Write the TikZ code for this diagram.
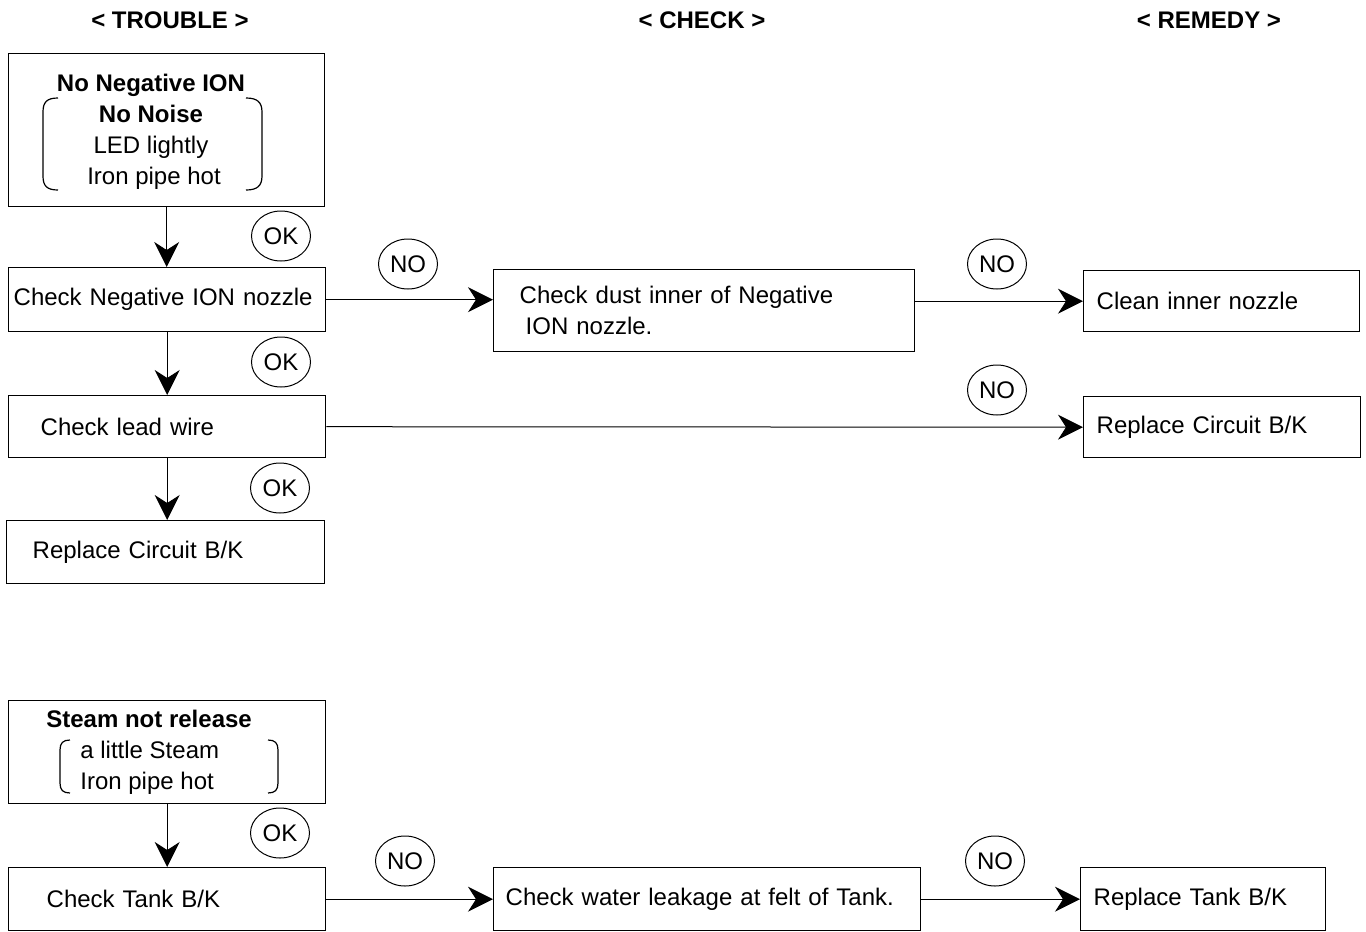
\documentclass[tikz,border=0pt]{standalone}
\usepackage{fontspec}
\setmainfont{Liberation Sans}
\usetikzlibrary{arrows.meta,shapes.geometric}

\tikzset{
  every node/.style={font=\fontsize{12}{15.5}\selectfont},
  box/.style={draw, line width=0.7pt, anchor=north west, inner ysep=0pt, align=left},
  frame/.style={draw, line width=0.7pt, anchor=north west, inner sep=0pt},
  tag/.style={draw, ellipse, line width=0.5pt, minimum width=29.5pt, minimum height=25pt, inner sep=0pt},
  head/.style={font=\fontsize{12}{15.5}\selectfont\bfseries},
  flow/.style={line width=0.5pt, -{Stealth[length=12.5pt, width=12.5pt, inset=4pt]}},
  brace/.style={line width=0.6pt}
}

\begin{document}
\begin{tikzpicture}[x=0.5pt, y=-0.5pt]
  \useasboundingbox (0,0) rectangle (1366,932);

  \node[head] (htrouble) at ( 170, 20) {< TROUBLE >};
  \node[head] (hcheck)   at ( 702, 20) {< CHECK >};
  \node[head] (hremedy)  at (1209, 20) {< REMEDY >};

  \node[frame, minimum width=158pt, minimum height=76.5pt]              (trouble1) at (   8, 53) {};
  \node[align=center] (trouble1txt) at (151,132)
       {\textbf{No Negative ION}\\ \textbf{No Noise}\\ LED lightly\\ \hspace*{3pt}Iron pipe hot};
  \draw[brace] ( 58, 98) .. controls ( 47, 98) and ( 43,102) .. ( 43,112) -- ( 43,176)
               .. controls ( 43,186) and ( 47,190) .. ( 58,190);
  \draw[brace] (246, 98) .. controls (257, 98) and (262,102) .. (262,112) -- (262,176)
               .. controls (262,186) and (257,190) .. (246,190);

  \node[box, minimum height=32pt,   inner xsep=2.5pt, text width=153.5pt] (nozzle)   at (   8,267) {Check Negative ION nozzle};
  \node[box, minimum height=31pt,   inner xsep=16pt,  text width=126.5pt] (lead)     at (   8,395) {Check lead wire};
  \node[box, minimum height=31.5pt, inner xsep=13pt,  text width=133pt]   (circuit1) at (   6,520) {Replace Circuit B/K};
  \node[box, minimum height=41pt,   inner xsep=13pt,  text width=184.5pt] (dust)     at ( 493,269)
       {Check dust inner of Negative\\ \hspace*{3pt}ION nozzle.};
  \node[box, minimum height=30.5pt, inner xsep=6.5pt, text width=125pt]   (clean)    at (1083,270) {Clean inner nozzle};
  \node[box, minimum height=30.5pt, inner xsep=6.5pt, text width=125.5pt] (circuit2) at (1083,396) {Replace Circuit B/K};

  \node[frame, minimum width=158.5pt, minimum height=51.5pt]            (trouble2) at (   8,700) {};
  \node[align=left, anchor=west, inner xsep=0pt] (trouble2txt) at (80,752)
       {\hspace*{-17pt}\textbf{Steam not release}\\ a little Steam\\ Iron pipe hot};
  \draw[brace] ( 70,740) .. controls ( 63,740) and ( 60,743) .. ( 60,750) -- ( 60,783)
               .. controls ( 60,790) and ( 63,793) .. ( 70,793);
  \draw[brace] (268,740) .. controls (275,740) and (278,743) .. (278,750) -- (278,783)
               .. controls (278,790) and (275,793) .. (268,793);

  \node[box, minimum height=31.5pt, inner xsep=19pt,  text width=120.5pt] (tank)     at (   8,867) {Check Tank B/K};
  \node[box, minimum height=31.5pt, inner xsep=6pt,   text width=201.5pt] (leak)     at ( 493,867) {Check water leakage at felt of Tank.};
  \node[box, minimum height=31.5pt, inner xsep=6.5pt, text width=109.5pt] (tankrep)  at (1080,867) {Replace Tank B/K};

  \node[tag] (ok1) at ( 281,236) {OK};
  \node[tag] (ok2) at ( 281,362) {OK};
  \node[tag] (ok3) at ( 280,488) {OK};
  \node[tag] (ok4) at ( 280,833) {OK};
  \node[tag] (no1) at ( 408,264) {NO};
  \node[tag] (no2) at ( 997,264) {NO};
  \node[tag] (no3) at ( 997,390) {NO};
  \node[tag] (no4) at ( 405,861) {NO};
  \node[tag] (no5) at ( 995,861) {NO};

  \draw[flow] (trouble1.south) -- (trouble1.south |- nozzle.north);
  \draw[flow] (nozzle.south)   -- (nozzle.south |- lead.north);
  \draw[flow] (lead.south)     -- (lead.south |- circuit1.north);
  \draw[flow] (trouble2.south) -- (trouble2.south |- tank.north);
  \draw[flow] (nozzle.east)    -- (nozzle.east -| dust.west);
  \draw[flow] (dust.east |- clean.west) -- (clean.west);
  \draw[flow] (lead.east)      -- (circuit2.west);
  \draw[flow] (tank.east)      -- (leak.west);
  \draw[flow] (leak.east)      -- (tankrep.west);
\end{tikzpicture}
\end{document}
